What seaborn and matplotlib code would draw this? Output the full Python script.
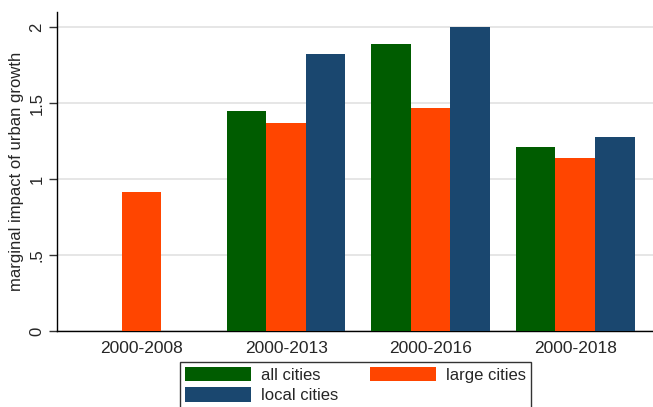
import numpy as np
import pandas as pd
import seaborn as sns
import matplotlib.pyplot as plt
from matplotlib.patches import Patch

sns.set_style("white")
plt.rcParams["font.family"] = ["Liberation Sans", "DejaVu Sans"]

# data
periods = ["2000-2008", "2000-2013", "2000-2016", "2000-2018"]
all_cities = [np.nan, 1.447, 1.888, 1.213]
large_cities = [0.914, 1.366, 1.469, 1.138]
local_cities = [np.nan, 1.820, 2.000, 1.278]
series = ["all cities", "large cities", "local cities"]
colors = ["#005C00", "#FF4500", "#1A476F"]
yticks = [0, 0.5, 1, 1.5, 2]
ytick_labels = ["0", ".5", "1", "1.5", "2"]

df = pd.DataFrame({
    "period": periods * 3,
    "series": [series[0]] * 4 + [series[1]] * 4 + [series[2]] * 4,
    "value": all_cities + large_cities + local_cities,
})

fig = plt.figure(figsize=(6.53, 4.07), dpi=100)
ax = fig.add_axes([57 / 653, 1 - 331 / 407, 1 - 57 / 653, (331 - 12) / 407])

sns.barplot(data=df, x="period", y="value", hue="series", hue_order=series,
            order=periods, palette=colors, width=0.82, saturation=1,
            errorbar=None, legend=False, ax=ax, zorder=3,
            edgecolor="none", linewidth=0)

ax.set_xlim(-0.586, 3.538)
ax.set_ylim(0, 2.099)
ax.set_yticks(yticks)
ax.set_yticklabels(ytick_labels, rotation=90, va="center")
ax.yaxis.grid(True, color="#E6E6E6", linewidth=1.4, zorder=0)
ax.set_axisbelow(True)

for s in ["top", "right"]:
    ax.spines[s].set_visible(False)
for s in ["left", "bottom"]:
    ax.spines[s].set_color("black")
    ax.spines[s].set_linewidth(1.0)

ax.tick_params(axis="y", length=6, width=1, color="#333333", labelsize=12, pad=3, left=True)
ax.tick_params(axis="x", length=0, labelsize=12.5, pad=7)
ax.set_xlabel("")
ax.set_ylabel("marginal impact of urban growth", fontsize=12, labelpad=4)

handles = [Patch(facecolor=c, edgecolor="none") for c in colors]
# order so the two-column legend reads row by row
leg = fig.legend([handles[0], handles[2], handles[1]],
                 [series[0], series[2], series[1]],
                 ncol=2, loc="upper left",
                 bbox_to_anchor=(180 / 653, 1 - 362 / 407),
                 fontsize=12, frameon=True, fancybox=False,
                 handlelength=3.95, handleheight=0.96, handletextpad=0.6,
                 labelspacing=0.25, columnspacing=1.9, borderpad=0.3,
                 borderaxespad=0)
leg.get_frame().set_edgecolor("black")
leg.get_frame().set_linewidth(1.0)

fig.savefig("out.png", dpi=100)
